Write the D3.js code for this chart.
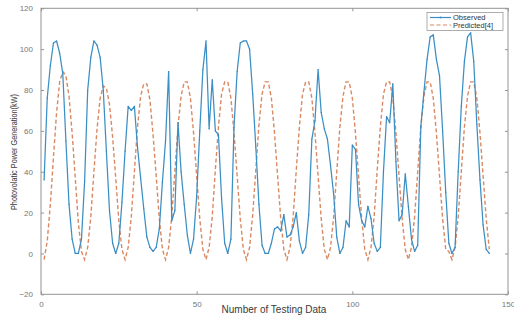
<!DOCTYPE html>
<html>
<head>
<meta charset="utf-8">
<script src="https://cdn.jsdelivr.net/npm/d3@7"></script>
<style>
  html, body { margin: 0; padding: 0; background: #fff; }
  svg { display: block; font-family: "Liberation Sans", Arial, sans-serif; }
</style>
</head>
<body>
<svg id="chart" width="514" height="320"></svg>
<script>
// Observed PV output for each testing sample (kW), samples 1..144
const observed = [
  36, 76, 92, 103, 104, 98, 88, 55, 24, 7, 0, 0, 7,
  35, 80, 96, 104, 102, 96, 80, 50, 21, 5, 0, 5,
  25, 50, 72, 70, 72, 52, 37, 22, 8, 3, 1, 3, 12,
  35, 55, 89, 16, 21, 64, 40, 24, 9, 0, 7, 28,
  60, 90, 104, 61, 85, 60, 58, 27, 5, 0, 7, 62,
  89, 103, 104, 104, 100, 78, 52, 24, 4, 0, 0, 5,
  12, 13, 11, 19, 8, 9, 13, 20, 6, 0, 3, 19,
  56, 65, 90, 69, 61, 56, 43, 29, 8, 0, 3, 16,
  13, 53, 51, 24, 16, 13, 23, 17, 5, 1, 3, 40,
  67, 64, 83, 45, 16, 19, 39, 23, 7, 1, 4, 62,
  79, 95, 106, 107, 95, 87, 60, 30, 5, 0, 3, 40,
  72, 94, 106, 108, 94, 63, 36, 14, 2, 0
];

// Model prediction [4] for the same samples (kW)
const predicted = [
  -3, 6, 24, 47, 69, 84, 89, 87, 77, 59, 37, 15, 1,
  -3, 3, 18, 40, 61, 76, 82, 81, 73, 57, 37, 16, 2,
  -3, 3, 18, 40, 62, 77, 83, 83, 75, 58, 38, 17, 2,
  -3, 3, 18, 40, 62, 77, 84, 84, 76, 59, 38, 17, 2,
  -3, 3, 18, 41, 62, 78, 84, 84, 76, 59, 38, 17, 2,
  -3, 3, 19, 41, 63, 78, 84, 84, 76, 59, 38, 17, 2,
  -3, 3, 18, 41, 62, 78, 84, 84, 76, 59, 38, 17, 2,
  -3, 3, 18, 40, 62, 77, 84, 84, 76, 59, 38, 17, 2,
  -3, 3, 18, 41, 62, 78, 84, 84, 76, 59, 38, 17, 2,
  -3, 3, 18, 40, 62, 77, 84, 84, 76, 59, 38, 17, 2,
  1,
  -3, 3, 18, 40, 62, 77, 84, 84, 76, 59, 38, 17, 2
];

const xTicks = [0, 50, 100, 150];
const yTicks = [-20, 0, 20, 40, 60, 80, 100, 120];
const seriesNames = ["Observed", "Predicted[4]"];

(function () {
  const colObs = "#3b8fc4";
  const colPred = "#da8862";
  const axisCol = "#949494";
  const tickTextCol = "#777";

  const svg = d3.select("#chart");
  const pLeft = 41, pRight = 508, pTop = 8.3, pBottom = 294.3;

  const x = d3.scaleLinear().domain([0, 150]).range([pLeft, pRight]);
  const y = d3.scaleLinear().domain([-20, 120]).range([pBottom, pTop]);

  // Plot box
  svg.append("rect")
    .attr("x", pLeft).attr("y", pTop)
    .attr("width", pRight - pLeft).attr("height", pBottom - pTop)
    .attr("fill", "#fff").attr("stroke", axisCol).attr("stroke-width", 1);

  // Axes with inward ticks on all four sides
  function styleAxis(g) {
    g.select(".domain").remove();
    g.attr("font-family", null);
    g.selectAll(".tick line").attr("stroke", axisCol);
    g.selectAll(".tick text").attr("fill", tickTextCol).style("font-size", "8px");
  }
  svg.append("g").attr("transform", `translate(0,${pBottom})`)
    .call(d3.axisBottom(x).tickValues(xTicks).tickSizeInner(-3).tickSizeOuter(0).tickPadding(7))
    .call(styleAxis);
  svg.append("g").attr("transform", `translate(0,${pTop})`)
    .call(d3.axisTop(x).tickValues(xTicks).tickSizeInner(-3).tickSizeOuter(0).tickFormat(""))
    .call(styleAxis);
  svg.append("g").attr("transform", `translate(${pLeft},0)`)
    .call(d3.axisLeft(y).tickValues(yTicks).tickSizeInner(-3).tickSizeOuter(0).tickPadding(8))
    .call(styleAxis);
  svg.append("g").attr("transform", `translate(${pRight},0)`)
    .call(d3.axisRight(y).tickValues(yTicks).tickSizeInner(-3).tickSizeOuter(0).tickFormat(""))
    .call(styleAxis);

  // Series lines
  const line = d3.line().x((d, i) => x(i + 1)).y(d => y(d));

  svg.append("path").datum(predicted)
    .attr("d", line).attr("fill", "none")
    .attr("stroke", colPred).attr("stroke-width", 1.4)
    .attr("stroke-dasharray", "4,2.5");

  svg.append("path").datum(observed)
    .attr("d", line).attr("fill", "none")
    .attr("stroke", colObs).attr("stroke-width", 1.25)
    .attr("stroke-linejoin", "round");

  svg.append("g").selectAll("circle").data(observed).join("circle")
    .attr("cx", (d, i) => x(i + 1)).attr("cy", d => y(d))
    .attr("r", 0.6).attr("fill", "#3282b8");

  // Axis titles
  svg.append("text")
    .attr("x", 274).attr("y", 313)
    .attr("text-anchor", "middle").attr("fill", "#3a3a3a")
    .style("font-size", "10px")
    .text("Number of Testing Data");

  svg.append("text")
    .attr("transform", "translate(17,152) rotate(-90)")
    .attr("text-anchor", "middle").attr("fill", "#3a3a3a")
    .style("font-size", "8.5px")
    .attr("textLength", 116).attr("lengthAdjust", "spacingAndGlyphs")
    .text("Photovolatic Power Generation(kW)");

  // Legend
  const lg = svg.append("g");
  lg.append("rect").attr("x", 427).attr("y", 12.5).attr("width", 76).attr("height", 18)
    .attr("fill", "#fff").attr("stroke", "#9a9a9a").attr("stroke-width", 0.8);
  const legendItems = [
    { name: seriesNames[0], color: colObs, dash: null, dot: true },
    { name: seriesNames[1], color: colPred, dash: "4,2.5", dot: false }
  ];
  legendItems.forEach((it, i) => {
    const ly = 17.5 + i * 7.5;
    lg.append("line").attr("x1", 430).attr("x2", 451).attr("y1", ly).attr("y2", ly)
      .attr("stroke", it.color).attr("stroke-width", 1.2)
      .attr("stroke-dasharray", it.dash);
    if (it.dot) lg.append("circle").attr("cx", 440.5).attr("cy", ly).attr("r", 0.9).attr("fill", it.color);
    lg.append("text").attr("x", 453).attr("y", ly + 2.6)
      .attr("fill", "#333").style("font-size", "7.5px")
      .text(it.name);
  });
})();
</script>
</body>
</html>
